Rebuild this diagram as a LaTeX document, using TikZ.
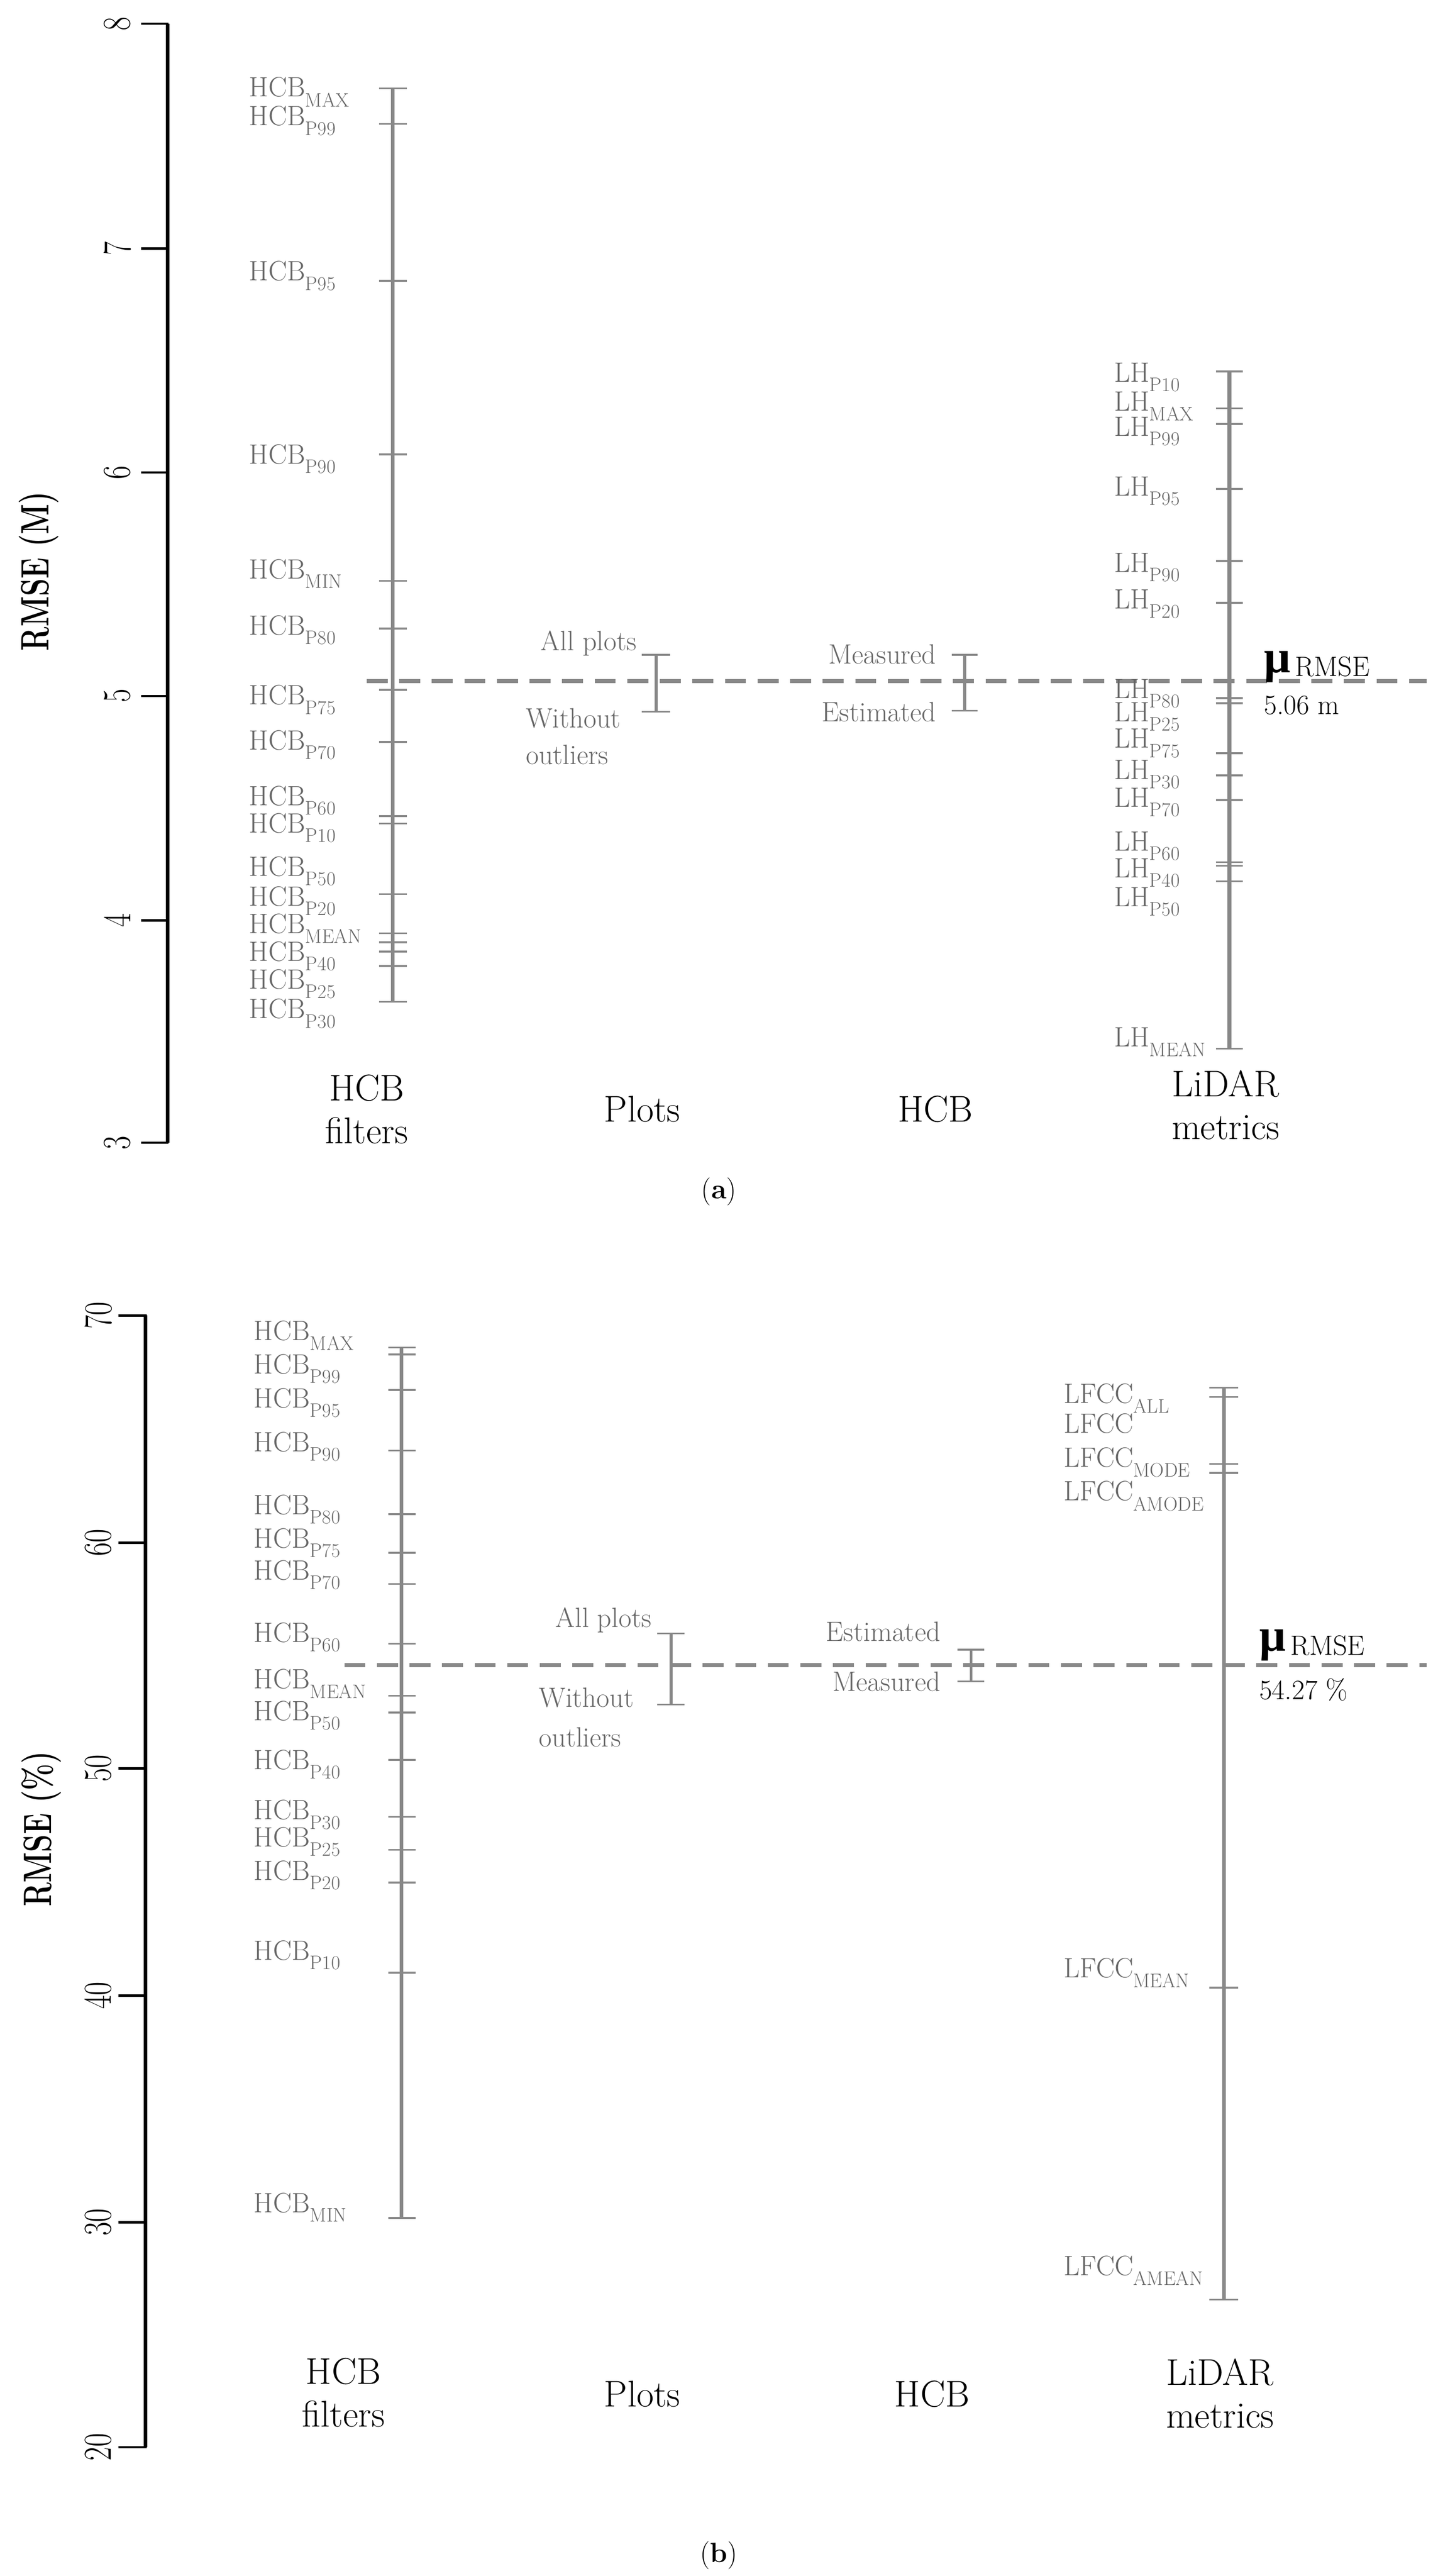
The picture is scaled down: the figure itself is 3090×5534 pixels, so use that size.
\documentclass[tikz,border=0pt]{standalone}
\usepackage{fontspec}
\newfontfamily\mufont{Liberation Serif}
\definecolor{txtg}{HTML}{666666}
\definecolor{barg}{HTML}{888888}
\tikzset{
  lab/.style={text=txtg,font=\fontsize{60}{60}\selectfont,inner sep=0pt},
  cat/.style={font=\fontsize{80}{92}\selectfont,align=center,inner sep=0pt},
  num/.style={font=\fontsize{85}{85}\selectfont,rotate=90,inner sep=0pt},
  ylab/.style={font=\bfseries\fontsize{85}{85}\selectfont,rotate=90,inner sep=0pt},
  bar/.style={draw=barg,line width=8pt},
  tk/.style={draw=barg,line width=4pt},
  eb/.style={draw=barg,line width=6pt},
  axl/.style={draw=black,line width=8pt},
  axt/.style={draw=black,line width=5pt},
  meanline/.style={draw=barg,line width=9pt,dash pattern=on 45pt off 25pt},
  mu/.style={font=\fontsize{60}{60}\selectfont,anchor=west,inner sep=0pt}
}
\newcommand{\mulab}{{\mufont\bfseries\fontsize{100}{100}\selectfont μ}\,\raisebox{-8pt}{RMSE}}
\begin{document}
\begin{tikzpicture}[x=1pt,y=-1pt]
\useasboundingbox (0,0) rectangle (3090,5534);
% ================= panel (a) =================
\coordinate (aT) at (360,51); \coordinate (aB) at (360,2455);
\draw[axl] (aT) -- (aB);
\foreach \v/\y in {8/51,7/534,6/1015,5/1495,4/1977,3/2455}{
  \coordinate (at\v) at (303,\y);
  \draw[axt] (at\v) -- (362,\y);
  \node[num] (an\v) at (252,\y) {\scalebox{0.75}[1]{\v}};
}
\node[ylab] (aylab) at (83,1227) {\scalebox{0.72}[1]{RMSE (M)}};
\coordinate (ad1) at (788,1463); \coordinate (ad2) at (3066,1463);
\draw[meanline] (ad1) -- (ad2);
% HCB filters
\coordinate (hfaT) at (844,190); \coordinate (hfaB) at (844,2152);
\draw[bar] (hfaT) -- (hfaB);
\foreach \y in {190,266,603,976,1248,1350,1482,1594,1753,1769,1921,2005,2024,2044,2075,2152}
  \draw[tk] (815,\y) -- (874,\y);
\foreach \y/\s [count=\i] in {188/MAX,250/P99,583/P95,977/P90,1223/MIN,1344/P80,1494/P75,1591/P70,1710/P60,1769/P10,1862/P50,1926/P20,1985/MEAN,2045/P40,2104/P25,2168/P30}
  \node[lab,anchor=base west] (hfa\i) at (535,\y+20) {HCB\textsubscript{\s}};
% Plots
\coordinate (paT) at (1410,1407); \coordinate (paB) at (1410,1529);
\draw[eb] (paT) -- (paB);
\draw[tk] (1379,1407) -- (1440,1407); \draw[tk] (1379,1529) -- (1440,1529);
\node[lab,anchor=east] (pa1) at (1368,1382) {All plots};
\node[lab,anchor=west,align=left,font=\fontsize{60}{78}\selectfont] (pa2) at (1130,1582) {Without\\outliers};
% HCB
\coordinate (haT) at (2073,1407); \coordinate (haB) at (2073,1527);
\draw[eb] (haT) -- (haB);
\draw[tk] (2045,1407) -- (2101,1407); \draw[tk] (2045,1527) -- (2101,1527);
\node[lab,anchor=east] (ha1) at (2012,1405) {Measured};
\node[lab,anchor=east] (ha2) at (2012,1530) {Estimated};
% LiDAR
\coordinate (laT) at (2642,798); \coordinate (laB) at (2642,2253);
\draw[bar] (laT) -- (laB);
\foreach \y in {798,877,911,1050,1205,1295,1500,1511,1618,1666,1719,1852,1860,1893,2253}
  \draw[tk] (2613,\y) -- (2671,\y);
\foreach \y/\s [count=\i] in {801/P10,863/MAX,917/P99,1045/P95,1209/P90,1288/P20,1480/P80,1530/P25,1587/P75,1654/P30,1714/P70,1808/P60,1865/P40,1927/P50,2228/MEAN}
  \node[lab,anchor=base west] (lha\i) at (2394,\y+20) {LH\textsubscript{\s}};
\node[mu,anchor=base west] (mua) at (2716,1445) {\mulab};
\node[mu] (mva) at (2716,1515) {5.06 m};
% categories
\node[cat] (ca1) at (788,2383) {HCB\\filters};
\node[cat] (ca2) at (1380,2383) {Plots};
\node[cat] (ca3) at (2010,2383) {HCB};
\node[cat] (ca4) at (2634,2374) {LiDAR\\metrics};
\node[font=\fontsize{60}{60}\selectfont] (capa) at (1545,2560) {(\textbf{a})};
% ================= panel (b) =================
\coordinate (bT) at (313,2826); \coordinate (bB) at (313,5257);
\draw[axl] (bT) -- (bB);
\foreach \v/\y in {70/2826,60/3314,50/3799,40/4287,30/4774,20/5257}{
  \coordinate (bt\v) at (255,\y);
  \draw[axt] (bt\v) -- (315,\y);
  \node[num] (bn\v) at (211,\y) {\scalebox{0.75}[1]{\v}};
}
\node[ylab] (bylab) at (89,3929) {\scalebox{0.72}[1]{RMSE (\%)}};
\coordinate (bd1) at (740,3577); \coordinate (bd2) at (3066,3577);
\draw[meanline] (bd1) -- (bd2);
% HCB filters
\coordinate (hfbT) at (863,2895); \coordinate (hfbB) at (863,4765);
\draw[bar] (hfbT) -- (hfbB);
\foreach \y in {2895,2910,2986,3116,3253,3336,3403,3531,3643,3679,3781,3903,3974,4044,4238,4765}
  \draw[tk] (834,\y) -- (893,\y);
\foreach \y/\s [count=\i] in {2859/MAX,2931/P99,3004/P95,3098/P90,3233/P80,3305/P75,3374/P70,3508/P60,3607/MEAN,3676/P50,3781/P40,3889/P30,3947/P25,4019/P20,4191/P10,4733/MIN}
  \node[lab,anchor=base west] (hfb\i) at (545,\y+20) {HCB\textsubscript{\s}};
% Plots
\coordinate (pbT) at (1442,3509); \coordinate (pbB) at (1442,3662);
\draw[eb] (pbT) -- (pbB);
\draw[tk] (1412,3509) -- (1471,3509); \draw[tk] (1412,3662) -- (1471,3662);
\node[lab,anchor=east] (pb1) at (1400,3480) {All plots};
\node[lab,anchor=west,align=left,font=\fontsize{60}{85}\selectfont] (pb2) at (1158,3689) {Without\\outliers};
% HCB
\coordinate (hbT) at (2087,3544); \coordinate (hbB) at (2087,3612);
\draw[eb] (hbT) -- (hbB);
\draw[tk] (2058,3544) -- (2115,3544); \draw[tk] (2058,3612) -- (2115,3612);
\node[lab,anchor=east] (hb1) at (2021,3505) {Estimated};
\node[lab,anchor=east] (hb2) at (2021,3612) {Measured};
% LiDAR
\coordinate (lbT) at (2630,2981); \coordinate (lbB) at (2630,4940);
\draw[bar] (lbT) -- (lbB);
\foreach \y in {2981,3001,3145,3164,4270,4940}
  \draw[tk] (2599,\y) -- (2661,\y);
\foreach \y/\s [count=\i] in {2994/ALL,3058/,3132/MODE,3204/AMODE,4228/MEAN,4868/AMEAN}
  \node[lab,anchor=base west] (lfb\i) at (2286,\y+20) {LFCC\textsubscript{\s}};
\node[mu,anchor=base west] (mub) at (2706,3547) {\mulab};
\node[mu] (mvb) at (2706,3630) {54.27 \%};
% categories
\node[cat] (cb1) at (738,5140) {HCB\\filters};
\node[cat] (cb2) at (1380,5143) {Plots};
\node[cat] (cb3) at (2003,5143) {HCB};
\node[cat] (cb4) at (2622,5142) {LiDAR\\metrics};
\node[font=\fontsize{60}{60}\selectfont] (capb) at (1545,5490) {(\textbf{b})};
\end{tikzpicture}
\end{document}
